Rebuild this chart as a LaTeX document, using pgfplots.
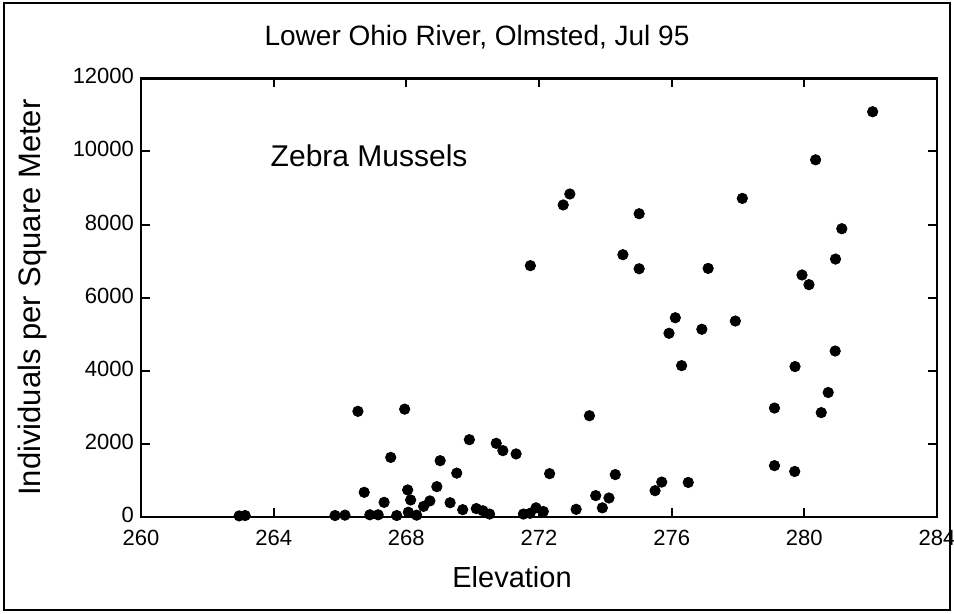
\documentclass[border=0pt]{standalone}
\usepackage{fontspec}
\setmainfont{Liberation Sans}
\usepackage{pgfplots}
\pgfplotsset{compat=1.18}
\begin{document}
\begin{tikzpicture}
\useasboundingbox (-70.5pt,-48.5pt) rectangle (406.5pt,258.5pt);
\draw[line width=0.9pt] (-68.5pt,-46.5pt) rectangle (404.5pt,257pt);
\begin{axis}[at={(0,0)}, anchor=south west, scale only axis,
  width=398pt, height=219.35pt,
  xmin=260, xmax=284, ymin=0, ymax=12000,
  xtick={260,264,...,284}, ytick={0,2000,...,12000},
  tick align=inside, major tick length=4.5pt,
  axis line style={line width=1.3pt},
  every tick/.style={black, line width=1pt},
  ticklabel style={font=\fontsize{11}{13}\selectfont},
  xticklabel style={yshift=-3pt},
  yticklabel style={yshift=1pt},
  /pgf/number format/assume math mode=true,
  /pgf/number format/set thousands separator={},
  scaled y ticks=false,
  clip=false]
\addplot[only marks, mark=*, mark size=2.6pt, black] coordinates {
(262.96,30) (263.14,40) (265.85,40) (266.15,50) (266.9,60) (267.15,60)
(267.71,40) (268.06,130) (268.31,50) (268.52,290) (269.70,200) (270.11,230)
(270.31,170) (270.51,80) (271.53,80) (271.73,100) (271.91,250) (272.13,150)
(273.12,210) (273.91,250)
(266.54,2890) (267.95,2950) (267.53,1630) (266.73,675) (268.04,740)
(268.13,465) (267.33,400) (268.71,440) (269.32,390) (268.92,830)
(269.02,1540) (269.52,1200) (269.90,2115) (270.71,2015) (270.91,1815)
(271.31,1725) (272.32,1185) (273.52,2770) (273.71,585) (274.11,520)
(274.30,1160) (275.50,720) (275.70,955) (276.50,945) (279.10,1405) (279.71,1245)
(271.74,6875) (272.73,8535) (272.93,8835) (275.02,8295) (274.53,7175)
(275.02,6790) (277.10,6800) (278.13,8715) (280.34,9770) (282.06,11085)
(281.13,7885) (280.94,7055) (279.93,6620) (280.14,6355) (276.11,5450)
(275.92,5025) (276.91,5135) (277.92,5360) (276.30,4140) (279.72,4115)
(280.93,4540) (280.72,3405) (279.10,2980) (280.51,2855)
};
\node[anchor=west, inner sep=0pt, font=\fontsize{15}{18}\selectfont] at (axis cs:263.9,9880) {Zebra Mussels};
\end{axis}
\node[font=\fontsize{14}{17}\selectfont] at (168pt,240pt) {Lower Ohio River, Olmsted, Jul 95};
\node[font=\fontsize{15.5}{18}\selectfont, rotate=90] at (-54.5pt,109.7pt) {Individuals per Square Meter};
\node[font=\fontsize{14.5}{17}\selectfont] at (185.5pt,-30pt) {Elevation};
\end{tikzpicture}
\end{document}
